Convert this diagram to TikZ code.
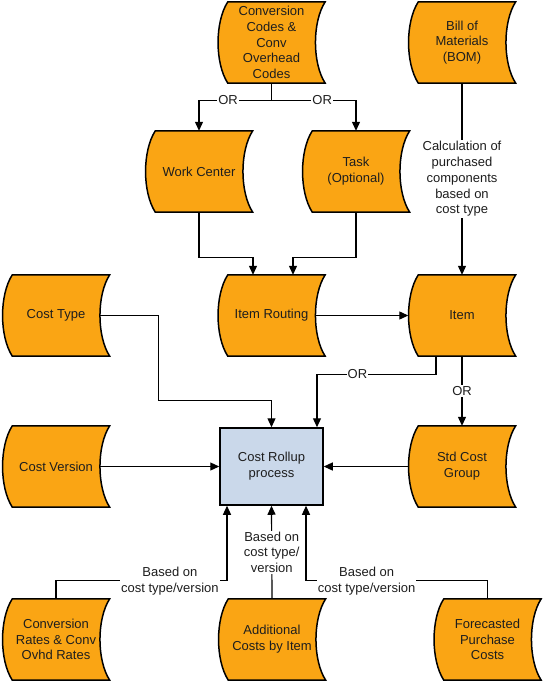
\documentclass[tikz,border=0pt]{standalone}
\usepackage{fontspec}
\setmainfont{Liberation Sans}
\usetikzlibrary{arrows.meta,calc}
\pgfdeclarelayer{bg}
\pgfsetlayers{bg,main}
\definecolor{shapeor}{RGB}{250,165,20}
\definecolor{procblue}{RGB}{202,216,234}
\definecolor{txt}{RGB}{30,30,30}
\begin{document}
\begin{tikzpicture}[x=1pt,y=1pt,
  every node/.style={font=\fontsize{13}{15.8}\selectfont, text=txt},
  store/.style={minimum width=107pt, minimum height=81pt, inner sep=0pt, align=center},
  proc/.style={draw=black, fill=procblue, line width=1.5pt, minimum width=103pt, minimum height=77pt, inner sep=0pt, align=center},
  sdline/.style={draw=black, fill=shapeor, line width=1.5pt, line join=miter},
  conn/.style={draw=black, line width=1.2pt},
  arr/.style={conn, -{Triangle[length=9pt,width=8pt]}},
  lbl/.style={fill=white, inner sep=1pt, align=center}]
\useasboundingbox (0,0) rectangle (543,-681);

% stored data nodes
\node[store] (cc) at (271.5,-42.5) {Conversion\\Codes \&\\Conv\\Overhead\\Codes};
\node[store] (bom) at (462,-42.5) {Bill of\\Materials\\(BOM)};
\node[store] (wc) at (199,-171.5) {Work Center};
\node[store] (task) at (356,-171.5) {Task\\(Optional)};
\node[store] (ct) at (56,-315.5) {Cost Type};
\node[store] (ir) at (271.5,-315.5) {Item Routing};
\node[store] (item) at (462,-315.5) {Item};
\node[store] (cv) at (56,-466.5) {Cost Version};
\node[proc] (cr) at (271.5,-466.5) {Cost Rollup\\process};
\node[store] (scg) at (462,-466.5) {Std Cost\\Group};
\node[store] (crates) at (56,-639.5) {Conversion\\Rates \& Conv\\Ovhd Rates};
\node[store] (acost) at (272,-639.5) {Additional\\Costs by Item};
\node[store] (fpc) at (487.5,-639.5) {Forecasted\\Purchase\\Costs};

\begin{pgfonlayer}{bg}
\foreach \n in {cc,bom,wc,task,ct,ir,item,cv,scg,crates,acost,fpc}{
  \draw[sdline] ($(\n.north west)+(10,0)$) -- (\n.north east)
    .. controls ($(\n.north east)+(-13,-20)$) and ($(\n.south east)+(-13,20)$) .. (\n.south east)
    -- ($(\n.south west)+(10,0)$)
    .. controls ($(\n.south west)+(-3,20)$) and ($(\n.north west)+(-3,-20)$) .. cycle;
}
\end{pgfonlayer}

% helper coordinates
\coordinate (irL) at ($(ir.north)+(-18.5,0)$);
\coordinate (irR) at ($(ir.north)+(21.5,0)$);
\coordinate (crTR) at ($(cr.north)+(45.5,0)$);
\coordinate (crBL) at ($(cr.south)+(-44.5,0)$);
\coordinate (crBR) at ($(cr.south)+(34.5,0)$);
\coordinate (itemBL) at ($(item.south)+(-26,0)$);

% connectors
\draw[arr] (cc.south) -- ++(0,-17) -| node[lbl, pos=0.3] {OR} (wc.north);
\draw[arr] (cc.south) -- ++(0,-17) -| node[lbl, pos=0.3] {OR} (task.north);
\draw[arr] (wc.south) -- ++(0,-45) -| (irL);
\draw[arr] (task.south) -- ++(0,-45) -| (irR);
\draw[arr] (bom.south) -- node[lbl] {Calculation of\\purchased\\components\\based on\\cost type} (item.north);
\draw[arr] ($(ct.east)+(-9.5,0)$) -- ++(58,0) |- ($(cr.north)+(0,27)$) -- (cr.north);
\draw[arr] ($(ir.east)+(-9,0)$) -- (item.west);
\draw[arr] (itemBL) -- ++(0,-18) -| node[lbl, pos=0.33] {OR} (crTR);
\draw[arr] (item.south) -- node[lbl] {OR} (scg.north);
\draw[arr] ($(cv.east)+(-9.5,0)$) -- (cr.west);
\draw[arr] (scg.west) -- (cr.east);
\draw[arr] (crates.north) -- ++(0,18) -| node[lbl, pos=0.333] {Based on\\cost type/version} (crBL);
\draw[arr] (acost.north) -- node[lbl] {Based on\\cost type/\\version} (cr.south);
\draw[arr] (fpc.north) -- ++(0,18) -| node[lbl, pos=0.333] {Based on\\cost type/version} (crBR);
\end{tikzpicture}
\end{document}
